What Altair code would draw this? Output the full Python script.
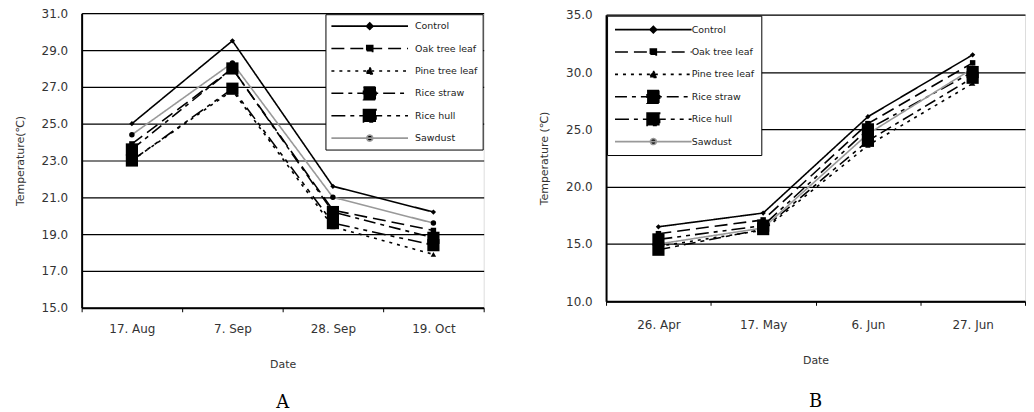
import altair as alt
import pandas as pd

series = ["Control", "Oak tree leaf", "Pine tree leaf", "Rice straw", "Rice hull", "Sawdust"]

dates_a = ["17. Aug", "7. Sep", "28. Sep", "19. Oct"]
control_a = [25.0, 29.5, 21.6, 20.2]
oak_a = [23.9, 28.0, 20.3, 19.2]
pine_a = [23.0, 26.8, 19.4, 17.9]
straw_a = [23.6, 28.0, 20.2, 18.8]
hull_a = [23.0, 26.9, 19.6, 18.4]
sawdust_a = [24.4, 28.3, 21.0, 19.6]

dates_b = ["26. Apr", "17. May", "6. Jun", "27. Jun"]
control_b = [16.5, 17.7, 26.1, 31.5]
oak_b = [15.9, 17.1, 25.5, 30.8]
pine_b = [14.8, 16.2, 23.6, 29.0]
straw_b = [14.5, 16.3, 24.0, 29.5]
hull_b = [15.4, 16.6, 25.0, 30.0]
sawdust_b = [15.0, 16.4, 24.6, 30.3]

ticks_a = [15, 17, 19, 21, 23, 25, 27, 29, 31]
ticks_b = [10, 15, 20, 25, 30, 35]


def long_df(dates, cols):
    rows = []
    for name, vals in zip(series, cols):
        for d, v in zip(dates, vals):
            rows.append({"Date": d, "series": name, "value": v})
    return pd.DataFrame(rows)


df_a = long_df(dates_a, [control_a, oak_a, pine_a, straw_a, hull_a, sawdust_a])
df_b = long_df(dates_b, [control_b, oak_b, pine_b, straw_b, hull_b, sawdust_b])

FONT = "DejaVu Sans"
SYM = 144          # legend symbol size -> unit of 6 px for custom paths
UNIT = 6.0

point_shapes = ["diamond", "square", "triangle-up", "square", "square", "circle"]
point_sizes = [28, 30, 30, 150, 150, 30]


def legend_paths(length_px):
    x0 = -1.0
    x1 = x0 + length_px / UNIT
    c = (x0 + x1) / 2
    line = f"M{x0:.2f},0H{x1:.2f}"

    def sq(h):
        return f"M{c-h:.2f},{-h:.2f}H{c+h:.2f}V{h:.2f}H{c-h:.2f}Z"

    diamond = f"M{c:.2f},-0.55L{c+0.55:.2f},0L{c:.2f},0.55L{c-0.55:.2f},0Z"
    tri = f"M{c:.2f},-0.6L{c+0.6:.2f},0.5H{c-0.6:.2f}Z"
    circ = f"M{c+0.5:.2f},0A0.5,0.5,0,1,1,{c-0.5:.2f},0A0.5,0.5,0,1,1,{c+0.5:.2f},0Z"
    return [line + diamond, line + sq(0.5), line + tri, line + sq(1.05), line + sq(1.05), line + circ]


def panel(df, dates, ticks, ymin, ymax, colors, dashes, ytitle, height, width,
          legend_orient, letter, line_len, legend_pad, xlab_pad, xtitle_pad, letter_off):
    legend = alt.Legend(
        title=None,
        orient=legend_orient,
        offset=1,
        fillColor="white",
        strokeColor="black",
        padding=legend_pad,
        rowPadding=2.5,
        gridAlign="all",
        labelFont=FONT,
        labelFontSize=9.5,
        labelColor="#222",
        labelOffset=line_len - 12 + 6,
        symbolSize=SYM,
        symbolStrokeWidth=1.6,
        symbolOpacity=1,
    )
    x = alt.X(
        "Date:N",
        sort=dates,
        scale=alt.Scale(type="band", paddingInner=0, paddingOuter=0),
        axis=alt.Axis(
            title="Date", labelAngle=0, tickBand="extent", tickSize=4, tickColor="black",
            domainColor="black", domainWidth=2, labelPadding=xlab_pad, titlePadding=xtitle_pad,
            labelFont=FONT, labelFontSize=12, labelColor="#333", labelFontWeight="normal",
            titleFont=FONT, titleFontSize=11, titleFontWeight="normal", titleColor="#333",
        ),
    )
    y = alt.Y(
        "value:Q",
        scale=alt.Scale(domain=[ymin, ymax], nice=False, zero=False),
        axis=alt.Axis(
            title=ytitle, values=ticks, format=".1f", grid=True, gridColor="black", gridWidth=1.2,
            ticks=False, domainColor="black", domainWidth=2, labelPadding=14, titlePadding=16,
            labelFont=FONT, labelFontSize=12, labelColor="#333",
            titleFont=FONT, titleFontSize=11, titleFontWeight="normal", titleColor="#333",
        ),
    )
    color = alt.Color("series:N", sort=series, scale=alt.Scale(domain=series, range=colors), legend=legend)
    dash = alt.StrokeDash("series:N", sort=series, scale=alt.Scale(domain=series, range=dashes), legend=legend)
    lines = alt.Chart(df).mark_line(strokeWidth=1.6).encode(
        x=x, y=y, color=color, strokeDash=dash,
    )
    layers = [lines]
    for name, shp, sz in zip(series, point_shapes, point_sizes):
        layers.append(
            alt.Chart(df).transform_filter(alt.datum.series == name).mark_point(
                filled=True, opacity=1, shape=shp, size=sz, color="black"
            ).encode(x=x, y=y)
        )
    # legend-only layer (draws no rows): gives the legend its line+marker symbols
    legend_layer = alt.Chart(df).transform_filter("false").mark_point(
        filled=False, fill="black", strokeWidth=1.6, opacity=1, fillOpacity=1
    ).encode(
        x=x, y=y, color=color, strokeDash=dash,
        shape=alt.Shape("series:N", sort=series,
                        scale=alt.Scale(domain=series, range=legend_paths(line_len)), legend=legend),
    )
    layers.append(legend_layer)
    return alt.layer(*layers).properties(
        width=width,
        height=height,
        title=alt.TitleParams(letter, orient="bottom", font="DejaVu Serif", fontSize=18,
                              fontWeight="normal", color="black", offset=letter_off),
    )


gray = "#999999"
chart_a = panel(
    df_a, dates_a, ticks_a, 15, 31,
    ["black", "black", "black", "black", "black", gray],
    [[1, 0], [13, 6], [3, 5], [12, 5, 4, 5], [14, 5, 4, 5, 4, 5], [1, 0]],
    "Temperature(℃)", 296, 404, "top-right", "A", 77, 5, 12, 24, 25,
)
chart_b = panel(
    df_b, dates_b, ticks_b, 10, 35,
    ["black", "black", "black", "black", gray, "black"],
    [[1, 0], [13, 6], [5, 7], [15, 6, 4, 6], [1, 0], [15, 6, 4, 6]],
    "Temperature (℃)", 288, 421, "top-left", "B", 70, 7, 14, 24, 28,
)

chart = alt.hconcat(chart_a, chart_b, spacing=53, center=True).properties(
    padding={"left": 5, "top": -3, "right": 0, "bottom": 0}
).configure_view(
    stroke="#999999", strokeWidth=2
).configure(background="white")

chart.save("out.html", embed_options={"renderer": "svg", "actions": False})
